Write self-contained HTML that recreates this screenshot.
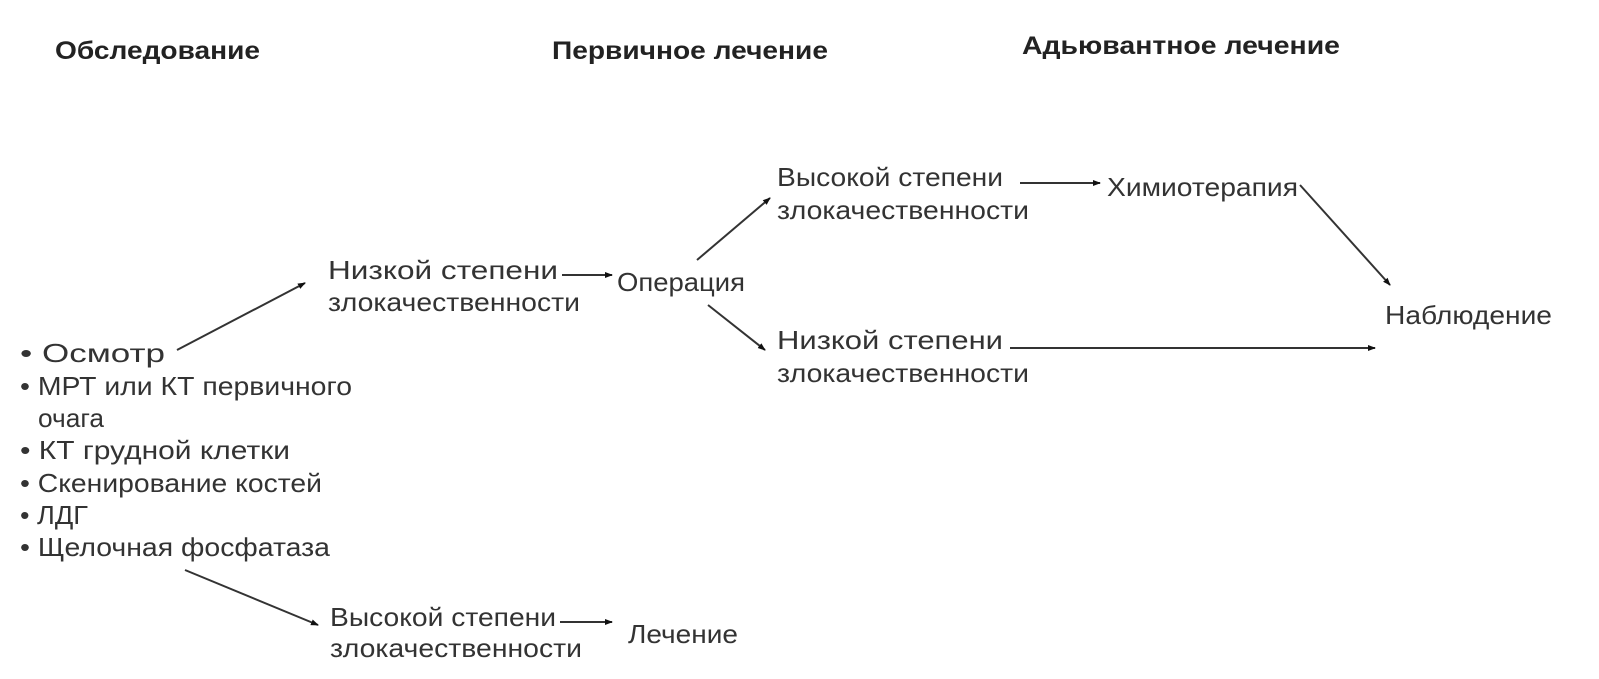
<!DOCTYPE html>
<html><head><meta charset="utf-8"><style>
html,body{margin:0;padding:0;background:#fff;width:1599px;height:679px;overflow:hidden}
svg{display:block}
text{font-family:"Liberation Sans",sans-serif;font-size:26px;fill:#333}
.h{font-weight:bold;font-size:25px;fill:#222}
line{stroke:#333;stroke-width:2}
</style></head><body>
<svg width="1599" height="679" viewBox="0 0 1599 679">
<defs><marker id="a" markerWidth="8" markerHeight="8" refX="7" refY="4" orient="auto" markerUnits="userSpaceOnUse"><path d="M0,1 L8,4 L0,7z" fill="#111"/></marker></defs>
<text class="h" x="55" y="59" textLength="205" lengthAdjust="spacingAndGlyphs">Обследование</text>
<text class="h" x="552" y="59" textLength="276" lengthAdjust="spacingAndGlyphs">Первичное лечение</text>
<text class="h" x="1022" y="54" textLength="318" lengthAdjust="spacingAndGlyphs">Адьювантное лечение</text>

<text x="20" y="362" textLength="145" lengthAdjust="spacingAndGlyphs">• Осмотр</text>
<text x="20" y="395" textLength="332" lengthAdjust="spacingAndGlyphs">• МРТ или КТ первичного</text>
<text x="38" y="427" textLength="66" lengthAdjust="spacingAndGlyphs">очага</text>
<text x="20" y="459" textLength="270" lengthAdjust="spacingAndGlyphs">• КТ грудной клетки</text>
<text x="20" y="492" textLength="302" lengthAdjust="spacingAndGlyphs">• Скенирование костей</text>
<text x="20" y="524" textLength="68" lengthAdjust="spacingAndGlyphs">• ЛДГ</text>
<text x="20" y="556" textLength="310" lengthAdjust="spacingAndGlyphs">• Щелочная фосфатаза</text>

<text x="328" y="279" textLength="230" lengthAdjust="spacingAndGlyphs">Низкой степени</text>
<text x="328" y="311" textLength="252" lengthAdjust="spacingAndGlyphs">злокачественности</text>
<text x="617" y="291" textLength="128" lengthAdjust="spacingAndGlyphs">Операция</text>
<text x="777" y="186" textLength="226" lengthAdjust="spacingAndGlyphs">Высокой степени</text>
<text x="777" y="219" textLength="252" lengthAdjust="spacingAndGlyphs">злокачественности</text>
<text x="777" y="349" textLength="226" lengthAdjust="spacingAndGlyphs">Низкой степени</text>
<text x="777" y="382" textLength="252" lengthAdjust="spacingAndGlyphs">злокачественности</text>
<text x="1107" y="196" textLength="191" lengthAdjust="spacingAndGlyphs">Химиотерапия</text>
<text x="1385" y="324" textLength="167" lengthAdjust="spacingAndGlyphs">Наблюдение</text>
<text x="330" y="626" textLength="226" lengthAdjust="spacingAndGlyphs">Высокой степени</text>
<text x="330" y="657" textLength="252" lengthAdjust="spacingAndGlyphs">злокачественности</text>
<text x="628" y="643" textLength="110" lengthAdjust="spacingAndGlyphs">Лечение</text>

<line x1="177" y1="350" x2="305" y2="283" marker-end="url(#a)"/>
<line x1="562" y1="275" x2="612" y2="275" marker-end="url(#a)"/>
<line x1="697" y1="260" x2="770" y2="198" marker-end="url(#a)"/>
<line x1="708" y1="305" x2="765" y2="350" marker-end="url(#a)"/>
<line x1="1020" y1="183" x2="1100" y2="183" marker-end="url(#a)"/>
<line x1="1300" y1="185" x2="1390" y2="285" marker-end="url(#a)"/>
<line x1="1010" y1="348" x2="1375" y2="348" marker-end="url(#a)"/>
<line x1="185" y1="570" x2="318" y2="625" marker-end="url(#a)"/>
<line x1="560" y1="622" x2="612" y2="622" marker-end="url(#a)"/>
</svg>
</body></html>
